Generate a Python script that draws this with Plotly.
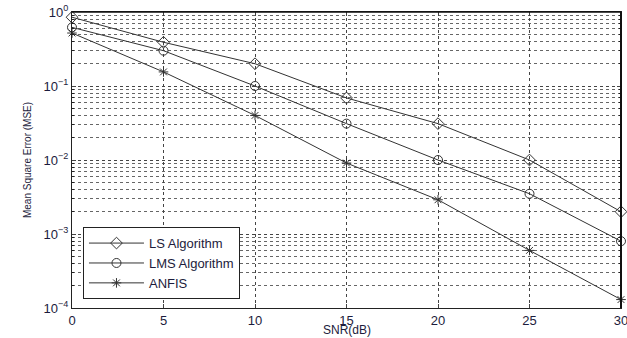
import plotly.graph_objects as go

snr = [0, 5, 10, 15, 20, 25, 30]
ls_mse = [0.85, 0.39, 0.2, 0.069, 0.031, 0.01, 0.002]
lms_mse = [0.62, 0.3, 0.1, 0.031, 0.01, 0.0035, 0.0008]
anfis_mse = [0.52, 0.155, 0.04, 0.0091, 0.0029, 0.0006, 0.00013]

x_ticks = [0, 5, 10, 15, 20, 25, 30]
y_ticks = [1e-4, 1e-3, 1e-2, 1e-1, 1]
y_ticktext = ["10<sup>−4</sup>", "10<sup>−3</sup>", "10<sup>−2</sup>", "10<sup>−1</sup>", "10<sup>0</sup>"]
y_minor = [m * 10 ** e for e in (-4, -3, -2, -1) for m in range(2, 10)]

line_color = "#333333"
text_color = "#1c1c3c"
font_family = "Liberation Sans, Arial, sans-serif"

fig = go.Figure()
fig.add_trace(go.Scatter(x=snr, y=ls_mse, mode="lines+markers", name="LS Algorithm",
                         line=dict(color=line_color, width=1), cliponaxis=False,
                         marker=dict(symbol="diamond-open", size=9, color=line_color, line=dict(width=1))))
fig.add_trace(go.Scatter(x=snr, y=lms_mse, mode="lines+markers", name="LMS Algorithm",
                         line=dict(color=line_color, width=1), cliponaxis=False,
                         marker=dict(symbol="circle-open", size=9, color=line_color, line=dict(width=1))))
fig.add_trace(go.Scatter(x=snr, y=anfis_mse, mode="lines+markers", name="ANFIS",
                         line=dict(color=line_color, width=1), cliponaxis=False,
                         marker=dict(symbol="asterisk-open", size=8, color=line_color, line=dict(width=1))))

fig.update_layout(
    width=627, height=338,
    margin=dict(l=72, r=6, t=12, b=30, autoexpand=False),
    paper_bgcolor="white", plot_bgcolor="white",
    font=dict(family=font_family, color=text_color, size=13),
    showlegend=True,
    legend=dict(x=0.02, y=0.03, xanchor="left", yanchor="bottom",
                bordercolor="#222222", borderwidth=1, bgcolor="white",
                font=dict(size=13, color=text_color), tracegroupgap=0, itemwidth=55),
    xaxis=dict(range=[0, 30], tickvals=x_ticks, ticks="inside", ticklen=4,
               showline=True, linecolor="#222222", linewidth=1, mirror="ticks",
               showgrid=True, gridcolor="#444444", griddash="dot", gridwidth=1,
               zeroline=False, tickfont=dict(size=13), automargin=False,
               ticklabeloverflow="allow"),
    yaxis=dict(type="log", range=[-4, 0], tickvals=y_ticks, ticktext=y_ticktext,
               ticks="inside", ticklen=4,
               showline=True, linecolor="#222222", linewidth=1, mirror="ticks",
               showgrid=True, gridcolor="#444444", griddash="dot", gridwidth=1,
               zeroline=False, tickfont=dict(size=13), automargin=False,
               ticklabeloverflow="allow",
               minor=dict(tickvals=y_minor, ticks="inside", ticklen=2, tickcolor="#222222",
                          showgrid=True, gridcolor="#666666", griddash="dot", gridwidth=1),
               title=dict(text="Mean Square Error (MSE)", font=dict(size=10), standoff=10)),
    shapes=[dict(type="line", xref="paper", yref="paper", x0=1, x1=1, y0=0, y1=1,
                 line=dict(color="#111111", width=2), layer="above"),
            dict(type="line", xref="paper", yref="paper", x0=0, x1=1, y0=1, y1=1,
                 line=dict(color="#111111", width=1.5), layer="above")],
    annotations=[dict(text="SNR(dB)", x=0.5, y=-0.076, xref="paper", yref="paper",
                      xanchor="center", yanchor="middle", showarrow=False,
                      font=dict(size=12, color=text_color))],
)

fig.write_html("out.html", config={"displayModeBar": False},
               post_script="document.body.style.margin='0';document.body.style.overflow='hidden';")
